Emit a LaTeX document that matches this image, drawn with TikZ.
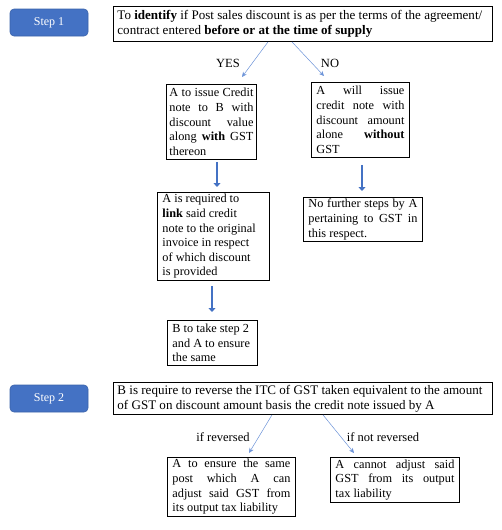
\documentclass[tikz,border=0pt]{standalone}
\usepackage{fontspec}
\setmainfont{Liberation Serif}
\usetikzlibrary{arrows.meta,calc}
\definecolor{stepblue}{HTML}{4472C4}
\definecolor{stepedge}{HTML}{3A62AA}
\definecolor{thinblue}{HTML}{6C93D8}
\tikzset{
  stepbtn/.style={rectangle, rounded corners=4pt, fill=stepblue, draw=stepedge, line width=0.6pt,
    minimum width=78pt, minimum height=27pt, text=white, font=\fontsize{12}{14}\selectfont, inner sep=0pt},
  txtbox/.style={rectangle, draw=black, line width=0.9pt, anchor=north west, inner xsep=4pt, inner ysep=0.5pt,
    font=\fontsize{12.3}{14.6}\selectfont, execute at begin node={\hyphenpenalty=10000}},
  widebox/.style={txtbox, font=\fontsize{13.05}{14.8}\selectfont},
  thinarr/.style={draw=thinblue, line width=0.5pt, -{Stealth[length=5pt,width=4.5pt]}},
  fatarr/.style={draw=stepblue, line width=2.8pt, -{Triangle[length=4pt,width=7pt]}},
  lbl/.style={font=\fontsize{12.5}{14}\selectfont, inner sep=0pt}
}
\begin{document}
\begin{tikzpicture}[x=1pt,y=-1pt]
\useasboundingbox (0,0) rectangle (501,530);
% Step buttons
\node[stepbtn] (s1) at (49,22.5) {Step 1};
\node[stepbtn] (s2) at (49,398.5) {Step 2};
% Boxes
\node[widebox, minimum width=379pt, minimum height=35pt, text width=371pt, align=flush left] (b1) at (113,6)
  {To \textbf{identify} if Post sales discount is as per the terms of the agreement/\\contract entered \textbf{before or at the time of supply}};
\node[txtbox, minimum width=90pt, minimum height=75pt, inner xsep=3pt, text width=84pt, align=justify] (bA) at (166,84)
  {A to issue Credit\linebreak note to B with\linebreak discount value\linebreak along \textbf{with} GST\linebreak thereon};
\node[txtbox, minimum width=98pt, minimum height=75pt, inner xsep=5pt, text width=88pt, align=justify] (bB) at (311,82)
  {A will issue\linebreak credit note with\linebreak discount amount\linebreak alone \textbf{without}\linebreak GST};
\node[txtbox, minimum width=112pt, minimum height=88pt, inner xsep=5pt, text width=102pt, align=flush left] (bC) at (157,192)
  {A is required to\\\textbf{link} said credit\\note to the original\\invoice in respect\\of which discount\\is provided};
\node[txtbox, minimum width=119pt, minimum height=44pt, inner xsep=5pt, text width=109pt, align=justify] (bD) at (303,197)
  {No further steps by A\linebreak pertaining to GST in\linebreak this respect.};
\node[txtbox, minimum width=90pt, minimum height=45pt, inner xsep=5pt, text width=80pt, align=flush left] (bE) at (167,320)
  {B to take step 2\\and A to ensure\\the same};
\node[widebox, minimum width=379pt, minimum height=32pt, text width=371pt, align=flush left] (bF) at (113,382)
  {B is require to reverse the ITC of GST taken equivalent to the amount\\of GST on discount amount basis the credit note issued by A};
\node[txtbox, minimum width=128pt, minimum height=59pt, inner xsep=5pt, text width=118pt, align=justify] (bG) at (167,457)
  {A to ensure the same\linebreak post which A can\linebreak adjust said GST from\linebreak its output tax liability};
\node[txtbox, minimum width=129pt, minimum height=45pt, inner xsep=5pt, text width=119pt, align=justify] (bH) at (330,457)
  {A cannot adjust said\linebreak GST from its output\linebreak tax liability};
% Thin arrows with labels
\draw[thinarr] ($(b1.south west)+(155,0)$) -- ($(bA.north west)+(76,-7)$);
\draw[thinarr] ($(b1.south west)+(179,0)$) -- ($(bB.north west)+(13,-6)$);
\node[lbl] (yes) at (228,63) {YES};
\node[lbl] (no) at (330,63) {NO};
\draw[thinarr] ($(bF.south west)+(159,0)$) -- ($(bG.north west)+(82,-4)$);
\draw[thinarr] ($(bF.south west)+(210,0)$) -- ($(bH.north west)+(24,-4)$);
\node[lbl] (ifr) at (223,437) {if reversed};
\node[lbl] (ifnr) at (383,437) {if not reversed};
% Fat arrows
\coordinate (fa) at ($(bA.south west)+(51,2)$);
\draw[fatarr] (fa) -- ($(fa |- bC.north)+(0,-5)$);
\coordinate (fb) at ($(bB.south west)+(51,7)$);
\draw[fatarr] (fb) -- ($(fb |- bD.north)+(0,-6)$);
\coordinate (fc) at ($(bC.south west)+(55,5)$);
\draw[fatarr] (fc) -- ($(fc |- bE.north)+(0,-8)$);
\end{tikzpicture}
\end{document}
